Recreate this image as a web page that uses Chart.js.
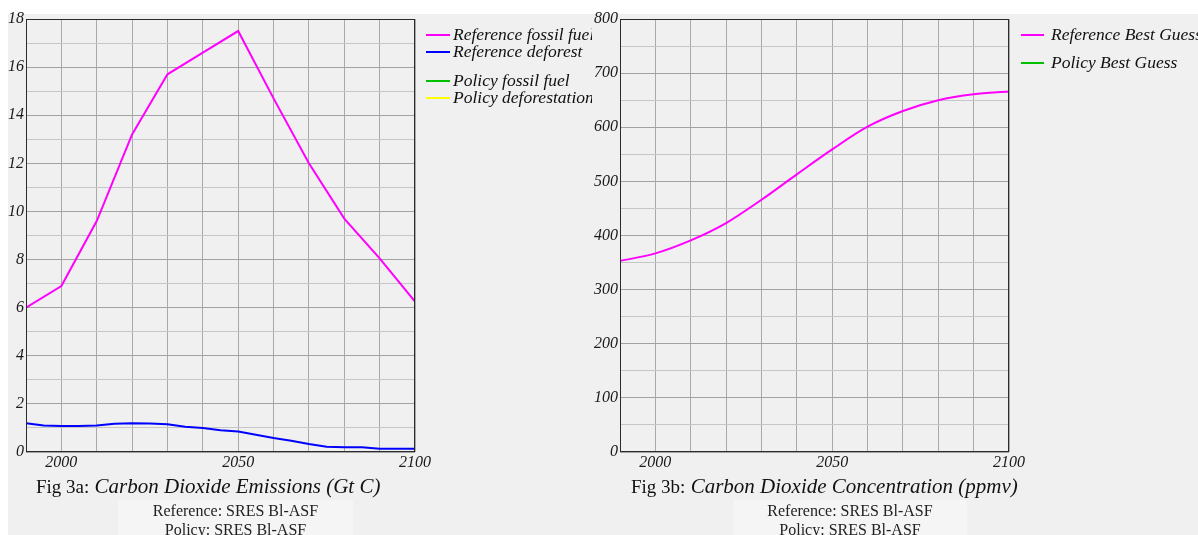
<!DOCTYPE html>
<html><head><meta charset="utf-8">
<script src="https://cdn.jsdelivr.net/npm/chart.js@4.4.1/dist/chart.umd.min.js"></script>
<style>
html,body{margin:0;padding:0;}
body{width:1198px;height:535px;background:#f0f0f0;position:relative;overflow:hidden;font-family:"Liberation Serif","Times New Roman",serif;}
#topstrip{position:absolute;left:0;top:0;width:1198px;height:14px;background:#fff;}
#leftstrip{position:absolute;left:0;top:0;width:8px;height:535px;background:#fff;}
canvas{position:absolute;top:0;}
.cap{position:absolute;white-space:nowrap;color:#111;line-height:1;}
.fig{font-size:19px;}
.ttl{font-size:21px;font-style:italic;color:#121212;}
.sub{position:absolute;text-align:center;font-size:16px;color:#222;line-height:19px;background:#f5f5f5;padding-top:1px;box-sizing:border-box;}
</style>
</head><body>
<div id="topstrip"></div><div id="leftstrip"></div>
<canvas id="c1" width="592" height="475" style="left:0"></canvas>
<canvas id="c2" width="606" height="475" style="left:592px"></canvas>

<div class="cap" style="left:36px;top:476px;"><span class="fig">Fig 3a:</span><span class="ttl">&nbsp;Carbon Dioxide Emissions (Gt C)</span></div>
<div class="sub" style="left:118px;top:500px;width:235px;height:35px;">Reference: SRES Bl-ASF<br>Policy: SRES Bl-ASF</div>

<div class="cap" style="left:631px;top:476px;"><span class="fig">Fig 3b:</span><span class="ttl">&nbsp;Carbon Dioxide Concentration (ppmv)</span></div>
<div class="sub" style="left:733px;top:500px;width:234px;height:35px;">Reference: SRES Bl-ASF<br>Policy: SRES Bl-ASF</div>

<script>
// ---- data ----
const fossilYears = [1990,2000,2010,2020,2030,2040,2050,2060,2070,2080,2090,2100];
const refFossil   = [6.0, 6.9, 9.6, 13.2, 15.7, 16.6, 17.5, 14.7, 12.0, 9.7, 8.05, 6.25];
const deforYears  = [1990,1995,2000,2005,2010,2015,2020,2025,2030,2035,2040,2045,2050,2055,2060,2065,2070,2075,2080,2085,2090,2095,2100];
const refDefor    = [1.2,1.1,1.08,1.08,1.1,1.17,1.2,1.18,1.15,1.05,1.0,0.9,0.85,0.72,0.58,0.47,0.33,0.22,0.2,0.2,0.14,0.14,0.14];
const policyFossil = [];
const policyDefor  = [];
const concYears   = [1990,2000,2010,2020,2030,2040,2050,2060,2070,2080,2090,2100];
const refConc     = [353,367,391,423,466,513,559,601,630,650,661,666];
const policyConc  = [];
const xTickLabels = [2000,2050,2100];
const leftLabels  = ['Reference fossil fuel','Reference deforest','Policy fossil fuel','Policy deforestation'];
const rightLabels = ['Reference Best Guess','Policy Best Guess'];

const pts = (xs, ys) => ys.map((y,i)=>({x:xs[i], y}));
const FONT = 'Liberation Serif';

const boxPlugin = {
  id:'box',
  afterDatasetsDraw(chart){
    const {ctx, chartArea:a} = chart;
    ctx.save();
    ctx.strokeStyle = '#2b2b2b'; ctx.lineWidth = 1;
    const l = Math.round(a.left)+0.5, t = Math.round(a.top)+0.5;
    const r = Math.round(a.right)-0.5, b = Math.round(a.bottom)-0.5;
    ctx.strokeRect(l, t, r-l, b-t);
    ctx.restore();
  }
};
const sideLegend = {
  id:'sideLegend',
  afterDraw(chart, args, opts){
    const ctx = chart.ctx;
    ctx.save();
    ctx.font = 'italic 17.5px "' + FONT + '"';
    ctx.textBaseline = 'middle';
    ctx.fillStyle = '#111';
    opts.items.forEach(it=>{
      const ds = chart.data.datasets[it.i];
      ctx.strokeStyle = ds.borderColor; ctx.lineWidth = 2;
      ctx.beginPath(); ctx.moveTo(opts.x0, it.y); ctx.lineTo(opts.x1, it.y); ctx.stroke();
      ctx.fillText(ds.label, opts.tx, it.y);
    });
    ctx.restore();
  }
};

function makeScales(yMax, yStep, yMajor, yWidth){
  return {
    x: {
      type:'linear', min:1990, max:2100,
      grid:{ drawTicks:false, color:'#a9a9a9', lineWidth:1 },
      border:{ display:false },
      ticks:{ stepSize:10, autoSkip:false, maxRotation:0, padding:1, color:'#1a1a1a',
        font:{family:FONT, style:'italic', size:16},
        callback:v => xTickLabels.includes(v) ? String(v) : '' },
      afterFit(s){ s.height = 23; }
    },
    y: {
      type:'linear', min:0, max:yMax,
      grid:{ drawTicks:false, color:c => (c.tick && c.tick.value % yMajor === 0) ? '#a2a2a2' : '#c6c6c6', lineWidth:1 },
      border:{ display:false },
      ticks:{ stepSize:yStep, autoSkip:false, padding:2, color:'#1a1a1a',
        font:{family:FONT, style:'italic', size:16},
        callback:v => (v % yMajor === 0) ? String(v) : '' },
      afterFit(s){ s.width = yWidth; }
    }
  };
}

const common = {
  responsive:false, animation:false,
  elements:{ point:{ radius:0 } },
  plugins:{ legend:{display:false}, tooltip:{enabled:false} }
};

new Chart(document.getElementById('c1'), {
  type:'line',
  data:{ datasets:[
    { label:leftLabels[2], data:pts(fossilYears, policyFossil), borderColor:'#00c000', borderWidth:2 },
    { label:leftLabels[3], data:pts(deforYears, policyDefor), borderColor:'#ffff00', borderWidth:2 },
    { label:leftLabels[0], data:pts(fossilYears, refFossil), borderColor:'#ff00ff', borderWidth:2, tension:0 },
    { label:leftLabels[1], data:pts(deforYears, refDefor), borderColor:'#0000ff', borderWidth:2, tension:0 }
  ]},
  options:{ ...common,
    layout:{ padding:{ left:0, top:19, right:177, bottom:0 } },
    scales: makeScales(18, 1, 2, 26),
    plugins:{ ...common.plugins,
      sideLegend:{ x0:426, x1:450, tx:453, items:[ {i:2,y:35},{i:3,y:52},{i:0,y:81},{i:1,y:98} ] } }
  },
  plugins:[boxPlugin, sideLegend]
});

new Chart(document.getElementById('c2'), {
  type:'line',
  data:{ datasets:[
    { label:rightLabels[1], data:pts(concYears, policyConc), borderColor:'#00c000', borderWidth:2 },
    { label:rightLabels[0], data:pts(concYears, refConc), borderColor:'#ff00ff', borderWidth:2, cubicInterpolationMode:'monotone' }
  ]},
  options:{ ...common,
    layout:{ padding:{ left:0, top:19, right:189, bottom:0 } },
    scales: makeScales(800, 50, 100, 28),
    plugins:{ ...common.plugins,
      sideLegend:{ x0:429, x1:452, tx:459, items:[ {i:1,y:35},{i:0,y:63} ] } }
  },
  plugins:[boxPlugin, sideLegend]
});
</script>
</body></html>
